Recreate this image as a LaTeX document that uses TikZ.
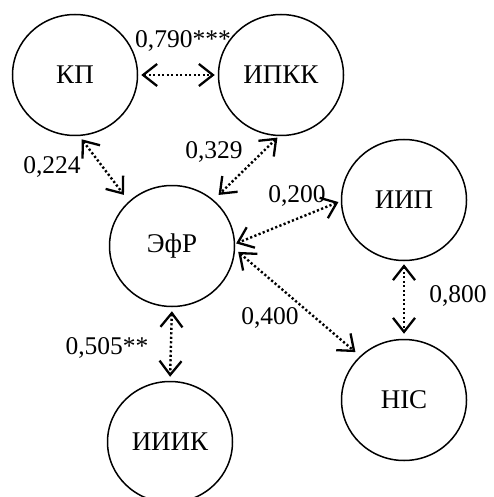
\documentclass[tikz,border=0pt]{standalone}
\usepackage{fontspec}
\setmainfont{Liberation Serif}
\usetikzlibrary{arrows.meta,shapes.geometric}
\begin{document}
\begin{tikzpicture}[x=1pt,y=-1pt,
  factor/.style={ellipse,draw,line width=1.5pt,minimum width=125pt,minimum height=121pt,
    inner sep=0pt,font=\fontsize{27}{30}\selectfont},
  barb/.tip={Straight Barb[length=14pt,width=22pt,line width=2.3pt]},
  corr/.style={line width=2.4pt,dash pattern=on 2.2pt off 2.3pt,barb-barb},
  coef/.style={font=\fontsize{25.5}{28}\selectfont,inner sep=0pt}]
\useasboundingbox (0,0) rectangle (494,497);
% latent factors
\node[factor] (kp)   at (75,75)   {КП};
\node[factor] (ipkk) at (281,75)  {ИПКК};
\node[factor] (efr)  at (172,246) {ЭфР};
\node[factor] (iip)  at (404,200) {ИИП};
\node[factor] (nis)  at (404,400) {НІС};
\node[factor] (iiik) at (170,442) {ИИИК};
% correlations
\draw[corr,shorten <=3pt,shorten >=3pt] (kp.east) -- (ipkk.west);
\draw[corr,shorten <=4pt,shorten >=8pt] (kp.-86.5) -- (efr.134);
\draw[corr,shorten <=2pt,shorten >=7pt] (ipkk.-92) -- (efr.48);
\draw[corr,shorten <=2.5pt,shorten >=1pt] (iip.181) -- (efr.2.6);
\draw[corr,shorten <=4pt,shorten >=6pt] (efr.-3.4) -- (nis.135);
\draw[corr,shorten <=4pt,shorten >=4pt] (efr.south) -- (iiik.north);
\draw[corr,shorten <=3pt,shorten >=5pt] (iip.south) -- (nis.north);
% coefficients
\node[coef] (c1) at (183,41)  {0,790***};
\node[coef] (c2) at (52,167)  {0,224};
\node[coef] (c3) at (214,152) {0,329};
\node[coef] (c4) at (297,196) {0,200};
\node[coef] (c5) at (270,318) {0,400};
\node[coef] (c6) at (107,348) {0,505**};
\node[coef] (c7) at (458,296) {0,800};
\end{tikzpicture}
\end{document}
